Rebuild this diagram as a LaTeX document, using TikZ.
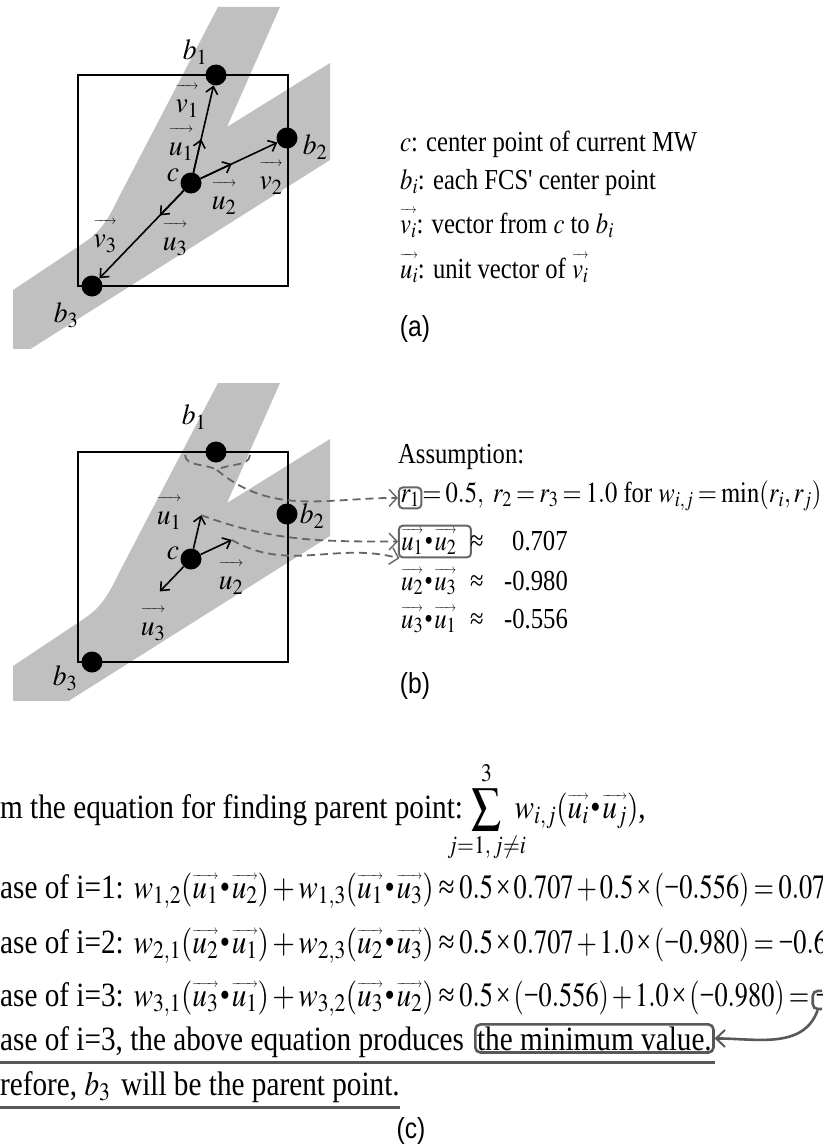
\documentclass[tikz,border=0pt]{standalone}
\usepackage{mathptmx}
\usepackage{fontspec}
\setmainfont{Liberation Serif}
\newfontfamily\capfont{Liberation Sans}
\usetikzlibrary{arrows.meta,calc}

\definecolor{bandgray}{HTML}{C0C0C0}
\definecolor{hintgray}{HTML}{666666}
\definecolor{markgray}{HTML}{585858}

% vector: thin arrow over the symbol, gap given as option
\newcommand{\vv}[2][4pt]{\mathord{\vbox{\offinterlineskip\ialign{##\crcr
  \fontsize{13}{13}\selectfont\rightarrowfill\crcr\noalign{\kern#1}$#2$\crcr}}}}
\newcommand{\dotp}{\mkern1mu\mbox{•}\mkern1mu}
\newcommand{\tms}{\mathbin{\mbox{×}}}
\newcommand{\mns}{\mbox{−}}
\newcommand{\apx}{\mathrel{\mbox{≈}}}

\tikzset{
  fcsdot/.style={circle, fill=black, inner sep=0pt, minimum size=21pt},
  vecline/.style={line width=1.6pt, -{Straight Barb[length=7pt, width=12pt, line width=1.6pt]}},
  lbl/.style={font=\fontsize{29}{30}\selectfont, inner sep=0pt, xscale=0.95, transform shape},
  txt/.style={font=\fontsize{29}{32}\selectfont, inner sep=0pt, anchor=base west, xscale=0.85, transform shape},
  bigtxt/.style={font=\fontsize{34}{38}\selectfont, inner sep=0pt, anchor=base west, xscale=0.86, transform shape},
  numtxt/.style={bigtxt, xscale=0.90},
  panelcap/.style={font=\capfont\fontsize{29}{32}\selectfont, inner sep=0pt, anchor=base, xscale=0.85, transform shape},
  hint/.style={draw=hintgray, line width=1.8pt, dash pattern=on 8pt off 5pt},
  hintarrow/.style={hint, -{Straight Barb[length=8pt, width=17pt, line width=1.4pt]}},
  rbox/.style={draw=hintgray, line width=2pt, rounded corners=4pt},
  mbox/.style={draw=markgray, line width=2.6pt, rounded corners=5pt},
  uline/.style={draw=markgray, line width=3pt},
  pointer/.style={draw=markgray, line width=2.6pt, -{Straight Barb[length=9pt, width=17pt, line width=2pt]}},
}

\begin{document}
\medmuskip=2mu
\thickmuskip=3mu
\begin{tikzpicture}[x=1pt,y=-1pt]
\useasboundingbox (0,0) rectangle (822,1148);
\clip (0,0) rectangle (822,1148);

% (a) -- band, window and points
\begin{scope}
  \clip (12,0) rectangle (330,348);
  \fill[bandgray] (218,7) -- (280,7) -- (227,127) -- (330,63) -- (330,160) -- (13,360)
    -- (13,290) -- (85,242) .. controls (103,230) and (110,215) .. (120,195) -- cycle;
\end{scope}
\draw[line width=2pt] (78,75) rectangle (288,286);
\node[fcsdot] (c)  at (191,183) {};
\node[fcsdot] (b1) at (216,75) {};
\node[fcsdot] (b2) at (287,138) {};
\node[fcsdot] (b3) at (92,286) {};
\coordinate (u1) at ($(c)!45pt!(b1)$);
\coordinate (u2) at ($(c)!45pt!(b2)$);
\coordinate (u3) at ($(c)!45pt!(b3)$);
\draw[vecline] (c) -- (b1);
\draw[vecline] (c) -- (b2);
\draw[vecline] (c) -- (b3);
\draw[vecline] (c) -- (u1);
\draw[vecline] (c) -- (u2);
\draw[vecline] (c) -- (u3);
\node[lbl] (lb1) at (195,52) {$b_1$};
\node[lbl] (lv1) at (187,101) {$\vv[11pt]{v_1}$};
\node[lbl] (lu1) at (181,144) {$\vv[11pt]{u_1}$};
\node[lbl] (lc)  at (173,175) {$c$};
\node[lbl] (lu2) at (224,198) {$\vv[11pt]{u_2}$};
\node[lbl] (lv2) at (271,178) {$\vv[11pt]{v_2}$};
\node[lbl] (lb2) at (315,147) {$b_2$};
\node[lbl] (lv3) at (105,236) {$\vv[11pt]{v_3}$};
\node[lbl] (lu3) at (175,239) {$\vv[11pt]{u_3}$};
\node[lbl] (lb3) at (66,315) {$b_3$};

% (a) -- legend
\node[txt] (la1) at (400,151) {$c$: center point of current MW};
\node[txt] (la2) at (400,189) {$b_i$: each FCS\textquotesingle\ center point};
\node[txt] (la3) at (400,233) {$\vv[7pt]{v_i}$: vector from $c$ to $b_i$};
\node[txt] (la4) at (400,278) {$\vv[7pt]{u_i}$: unit vector of $\vv[7pt]{v_i}$};
\node[panelcap] (capa) at (415,336) {(a)};

% (b) -- band, window and points
\begin{scope}[shift={(0,376)}]
  \clip (12,7) rectangle (330,324);
  \fill[bandgray] (218,7) -- (280,7) -- (227,127) -- (330,63) -- (330,160) -- (13,360)
    -- (13,290) -- (85,242) .. controls (103,230) and (110,215) .. (120,195) -- cycle;
\end{scope}
\draw[line width=2pt] (78,452) rectangle (288,662);
\node[fcsdot] (cb)  at (191,559) {};
\node[fcsdot] (b1b) at (216,452) {};
\node[fcsdot] (b2b) at (287,514) {};
\node[fcsdot] (b3b) at (92,662) {};
\coordinate (u1b) at ($(cb)!45pt!(b1b)$);
\coordinate (u2b) at ($(cb)!45pt!(b2b)$);
\coordinate (u3b) at ($(cb)!45pt!(b3b)$);
\draw[vecline] (cb) -- (u1b);
\draw[vecline] (cb) -- (u2b);
\draw[vecline] (cb) -- (u3b);
\node[lbl] (lb1b) at (194,417) {$b_1$};
\node[lbl] (lu1b) at (169,513) {$\vv[11pt]{u_1}$};
\node[lbl] (lcb)  at (173,553) {$c$};
\node[lbl] (lu2b) at (231,578) {$\vv[11pt]{u_2}$};
\node[lbl] (lb2b) at (312,516) {$b_2$};
\node[lbl] (lu3b) at (153,624) {$\vv[11pt]{u_3}$};
\node[lbl] (lb3b) at (65,678) {$b_3$};

% (b) -- assumption
\node[txt] (asm) at (398,463) {Assumption:};
\node[txt, rbox, inner sep=2pt] (r1box) at (398,502) {$r_1$};
\node[txt] (rline) at (r1box.base east) {$= 0.5,\ r_2 = r_3 = 1.0$ for $w_{i,j} = \min(r_i, r_j)$};
\node[txt, rbox, inner sep=3pt] (uu12) at (398,550) {$\vv{u_1}\dotp\vv{u_2}$\kern14pt};
\node[txt] (ap12) at (470,550) {≈};
\node[txt] (d12)  at (512,550) {0.707};
\node[txt] (uu23) at (401,590) {$\vv{u_2}\dotp\vv{u_3}$};
\node[txt] (ap23) at (470,590) {≈};
\node[txt] (d23)  at (504,590) {-0.980};
\node[txt] (uu31) at (401,628) {$\vv{u_3}\dotp\vv{u_1}$};
\node[txt] (ap31) at (470,628) {≈};
\node[txt] (d31)  at (504,628) {-0.556};

% (b) -- dashed hints
\coordinate (notch) at (217,470);
\draw[hint] (185,455) .. controls (186,467) and (205,463) .. (notch);
\draw[hint] (250,455) .. controls (249,467) and (229,463) .. (notch);
\draw[hintarrow] (notch) to[out=-40,in=180] (r1box.west);
\draw[hintarrow] (u1b) to[out=-20,in=180] (uu12.180);
\draw[hintarrow] (u2b) to[out=-30,in=165] (uu12.202);
\node[panelcap] (capb) at (415,693) {(b)};

% (c)
\node[bigtxt] (c1) at (0,818) {m the equation for finding parent point:\kern10pt$\displaystyle\sum_{\makebox[0pt]{$\scriptstyle j=1,\,j\neq i$}}^{3}\mkern6mu w_{i,j}(\vv{u_i}\dotp\vv{u_j})$,};
\node[bigtxt] (c2) at (0,898) {ase of i=1: $w_{1,2}(\vv{u_1}\dotp\vv{u_2}) + w_{1,3}(\vv{u_1}\dotp\vv{u_3}) \apx$};
\node[numtxt] (c2n) at (c2.base east) {$\;0.5\tms 0.707 + 0.5\tms(\mns 0.556) = 0.07$};
\node[bigtxt] (c3) at (0,953) {ase of i=2: $w_{2,1}(\vv{u_2}\dotp\vv{u_1}) + w_{2,3}(\vv{u_2}\dotp\vv{u_3}) \apx$};
\node[numtxt] (c3n) at (c3.base east) {$\;0.5\tms 0.707 + 1.0\tms(\mns 0.980) = \mns 0.6$};
\node[bigtxt] (c4) at (0,1006) {ase of i=3: $w_{3,1}(\vv{u_3}\dotp\vv{u_1}) + w_{3,2}(\vv{u_3}\dotp\vv{u_2}) \apx$};
\node[numtxt] (c4n) at (c4.base east) {$\;0.5\tms(\mns 0.556) + 1.0\tms(\mns 0.980) =$};
\node[bigtxt, mbox, inner sep=3pt, text width=40pt] (negbox) at ([xshift=2pt]c4n.base east) {$\mns$};
\node[bigtxt] (c5) at (0,1050) {ase of i=3, the above equation produces};
\node[bigtxt, mbox, inner sep=2pt] (mval) at ([xshift=10pt]c5.base east) {the minimum value.};
\node[bigtxt] (c6) at (0,1095) {refore, $b_3$\kern4pt\ will be the parent point.};
\coordinate (ul5) at (0,1062);
\coordinate (ul6) at (0,1107);
\draw[uline] (ul5) -- (ul5 -| mval.east);
\draw[uline] (ul6) -- (ul6 -| c6.east);
\coordinate (negfoot) at ($(negbox.south west)+(6,0)$);
\draw[pointer] (negfoot) to[out=-110,in=0] (mval.east);
\node[panelcap] (capc) at (411,1138) {(c)};
\end{tikzpicture}
\end{document}
